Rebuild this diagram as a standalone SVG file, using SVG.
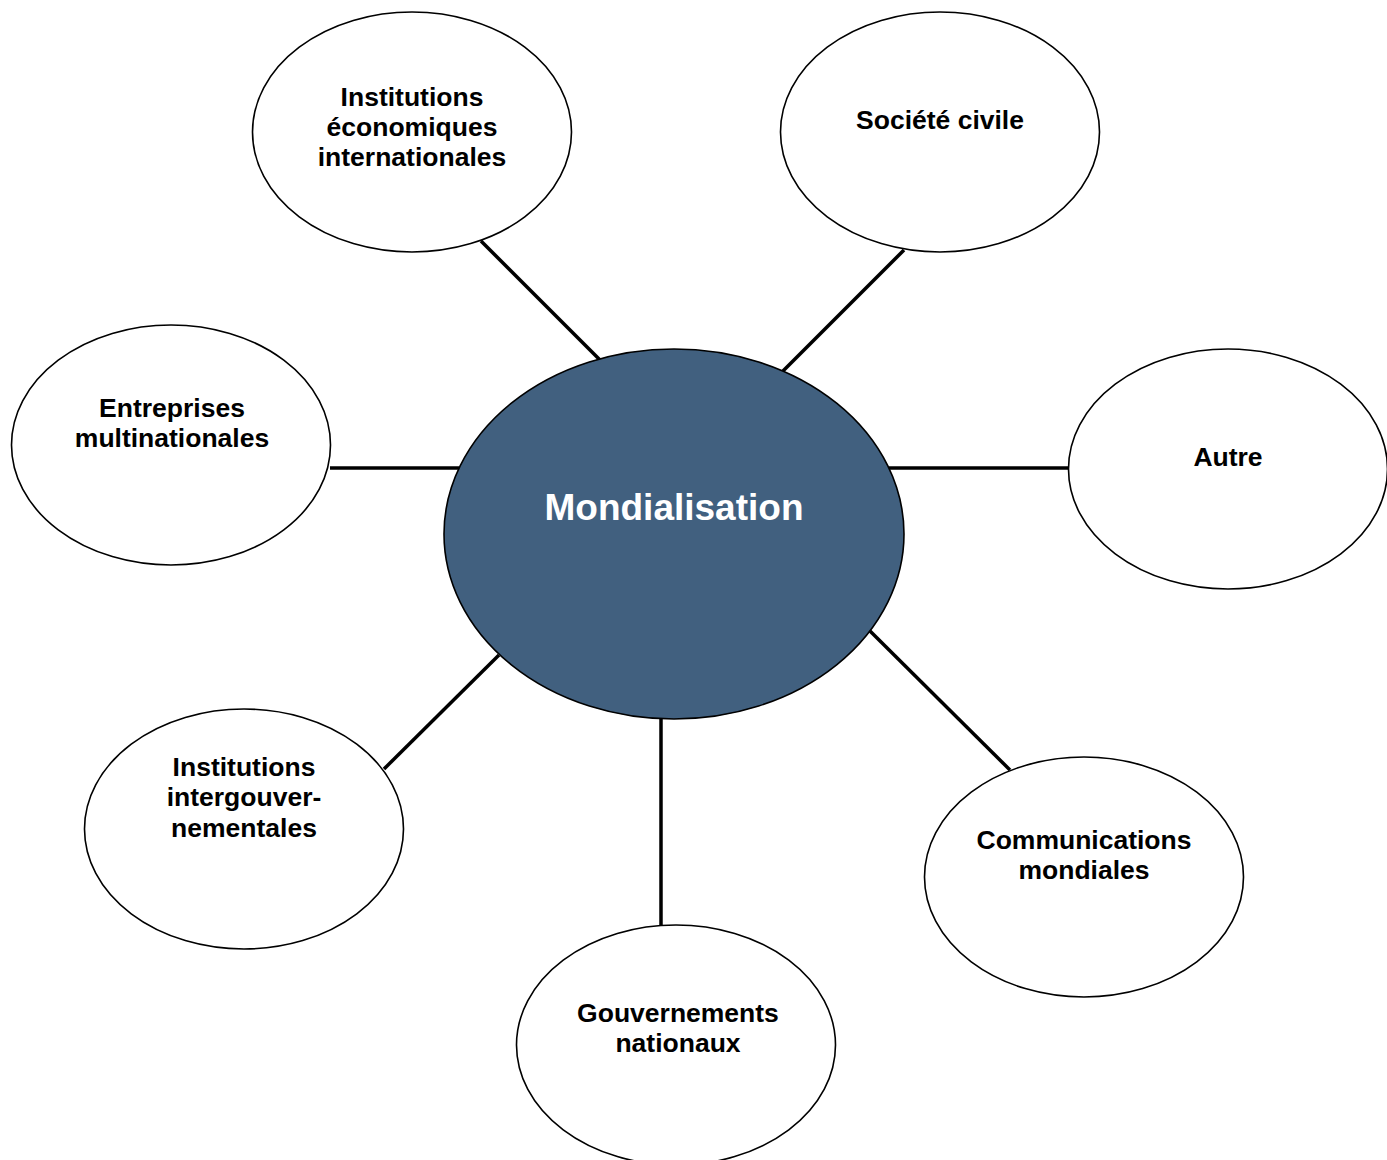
<svg xmlns="http://www.w3.org/2000/svg" width="1387" height="1160" viewBox="0 0 1387 1160">
<style>
.sat{fill:#ffffff;stroke:#000000;stroke-width:1.6}
.hub{fill:#41607F;stroke:#000000;stroke-width:1.6}
.lbl{font-family:"Liberation Sans",Arial,sans-serif;font-weight:bold;font-size:26.5px;fill:#000000;text-anchor:middle}
.hubl{font-family:"Liberation Sans",Arial,sans-serif;font-weight:bold;font-size:37px;fill:#ffffff;text-anchor:middle}
.conn line{stroke:#000000;stroke-width:3.5}
</style>
<rect width="1387" height="1160" fill="#ffffff"/>
<g id="connectors" class="conn">
<line x1="481" y1="241" x2="600" y2="360"/>
<line x1="904" y1="250" x2="783" y2="371"/>
<line x1="330" y1="468" x2="459" y2="468"/>
<line x1="889" y1="468" x2="1069" y2="468"/>
<line x1="384" y1="769" x2="499" y2="655"/>
<line x1="870" y1="631" x2="1010" y2="770"/>
<line x1="661" y1="719" x2="661" y2="925"/>
</g>
<g id="n-institutions-eco">
<ellipse class="sat" cx="412" cy="132" rx="159.5" ry="120"/>
<text class="lbl" x="412" y="106">Institutions</text>
<text class="lbl" x="412" y="136">économiques</text>
<text class="lbl" x="412" y="166">internationales</text>
</g>
<g id="n-societe-civile">
<ellipse class="sat" cx="940" cy="132" rx="159.5" ry="120"/>
<text class="lbl" x="940" y="129">Société civile</text>
</g>
<g id="n-entreprises">
<ellipse class="sat" cx="171" cy="445" rx="159.5" ry="120"/>
<text class="lbl" x="172" y="417">Entreprises</text>
<text class="lbl" x="172" y="447">multinationales</text>
</g>
<g id="n-autre">
<ellipse class="sat" cx="1228" cy="469" rx="159.5" ry="120"/>
<text class="lbl" x="1228" y="466">Autre</text>
</g>
<g id="n-mondialisation">
<ellipse class="hub" cx="674" cy="534" rx="230" ry="185"/>
<text class="hubl" x="674" y="520">Mondialisation</text>
</g>
<g id="n-institutions-inter">
<ellipse class="sat" cx="244" cy="829" rx="159.5" ry="120"/>
<text class="lbl" x="244" y="776">Institutions</text>
<text class="lbl" x="244" y="806">intergouver-</text>
<text class="lbl" x="244" y="837">nementales</text>
</g>
<g id="n-communications">
<ellipse class="sat" cx="1084" cy="877" rx="159.5" ry="120"/>
<text class="lbl" x="1084" y="849">Communications</text>
<text class="lbl" x="1084" y="879">mondiales</text>
</g>
<g id="n-gouvernements">
<ellipse class="sat" cx="676" cy="1045" rx="159.5" ry="120"/>
<text class="lbl" x="678" y="1022">Gouvernements</text>
<text class="lbl" x="678" y="1052">nationaux</text>
</g>
</svg>
